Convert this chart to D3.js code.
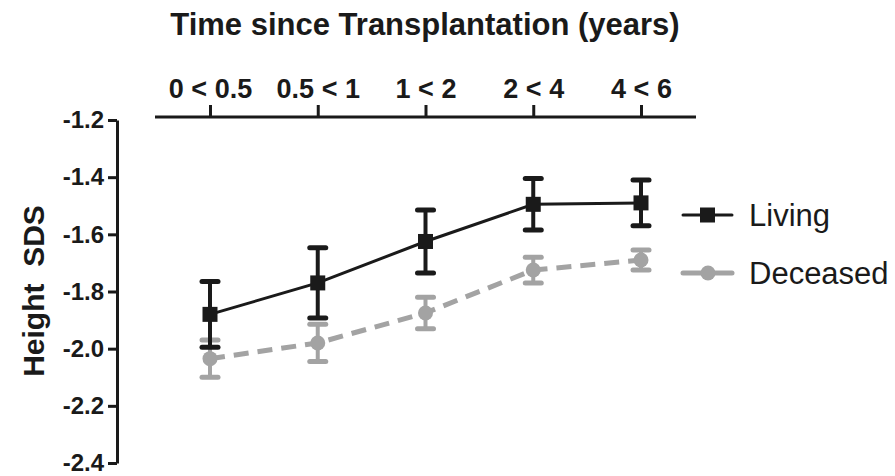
<!DOCTYPE html>
<html>
<head>
<meta charset="utf-8">
<script src="https://cdn.jsdelivr.net/npm/d3@7"></script>
<style>
  html, body { margin: 0; padding: 0; background: #fff; }
  svg { display: block; font-family: "Liberation Sans", Arial, sans-serif; }
</style>
</head>
<body>
<svg id="chart" width="895" height="476"></svg>
<script>
// Follow-up intervals after transplantation
const intervals = ["0 < 0.5", "0.5 < 1", "1 < 2", "2 < 4", "4 < 6"];

// Height SDS means and error half-widths per donor type
const livingMean = [-1.88, -1.77, -1.625, -1.495, -1.49];
const livingErr  = [0.115, 0.123, 0.11, 0.09, 0.08];
const deceasedMean = [-2.035, -1.98, -1.875, -1.725, -1.69];
const deceasedErr  = [0.065, 0.065, 0.055, 0.045, 0.035];

const yTicks = [-1.2, -1.4, -1.6, -1.8, -2.0, -2.2, -2.4];

const svg = d3.select("#chart");

const x = d3.scalePoint().domain(intervals).range([210, 641]);
const y = d3.scaleLinear().domain([-2.4, -1.2]).range([463, 120]);

// Top category axis
const xAxis = svg.append("g")
  .attr("transform", "translate(0,117)")
  .call(d3.axisTop(x).tickSize(12).tickPadding(7).tickSizeOuter(0));
xAxis.select(".domain").attr("d", "M155,0H696");
xAxis.selectAll("path, line").attr("stroke", "#1a1a1a").attr("stroke-width", 3);
xAxis.selectAll("text")
  .attr("fill", "#1a1a1a")
  .attr("font-size", 27)
  .attr("font-weight", "bold");

// Left value axis
const yAxis = svg.append("g")
  .attr("transform", "translate(117,0)")
  .call(d3.axisLeft(y).tickValues(yTicks).tickFormat(d3.format(".1f")).tickSize(9).tickPadding(4).tickSizeOuter(0));
yAxis.selectAll("path, line").attr("stroke", "#1a1a1a").attr("stroke-width", 3);
yAxis.selectAll("text")
  .attr("fill", "#1a1a1a")
  .attr("font-size", 24)
  .attr("font-weight", "bold")
  .text(d => d3.format(".1f")(d).replace("−", "-"));

// Axis titles
svg.append("text")
  .attr("x", 425).attr("y", 35)
  .attr("text-anchor", "middle")
  .attr("font-size", 31)
  .attr("font-weight", "bold")
  .attr("fill", "#1a1a1a")
  .text("Time since Transplantation (years)");

svg.append("text")
  .attr("transform", "translate(44,291) rotate(-90)")
  .attr("text-anchor", "middle")
  .attr("font-size", 30)
  .attr("font-weight", "bold")
  .attr("fill", "#1a1a1a")
  .attr("xml:space", "preserve")
  .text("Height  SDS");

const line = d3.line().x((d, i) => x(intervals[i])).y(d => y(d));

function drawSeries(means, errs, color, opts) {
  const g = svg.append("g");
  g.append("path")
    .datum(means)
    .attr("d", line)
    .attr("fill", "none")
    .attr("stroke", color)
    .attr("stroke-width", opts.lineWidth)
    .attr("stroke-dasharray", opts.dash || null);
  const pts = g.selectAll("g.pt").data(means).join("g").attr("class", "pt");
  pts.append("line")
    .attr("x1", (d, i) => x(intervals[i])).attr("x2", (d, i) => x(intervals[i]))
    .attr("y1", (d, i) => y(d + errs[i])).attr("y2", (d, i) => y(d - errs[i]))
    .attr("stroke", color).attr("stroke-width", 4);
  [1, -1].forEach(s => {
    pts.append("line")
      .attr("x1", (d, i) => x(intervals[i]) - 8).attr("x2", (d, i) => x(intervals[i]) + 8)
      .attr("y1", (d, i) => y(d + s * errs[i])).attr("y2", (d, i) => y(d + s * errs[i]))
      .attr("stroke", color).attr("stroke-width", 5).attr("stroke-linecap", "round");
  });
  if (opts.marker === "square") {
    pts.append("rect")
      .attr("x", (d, i) => x(intervals[i]) - 7.5).attr("y", d => y(d) - 7.5)
      .attr("width", 15).attr("height", 15).attr("fill", color);
  } else {
    pts.append("circle")
      .attr("cx", (d, i) => x(intervals[i])).attr("cy", d => y(d))
      .attr("r", 7.5).attr("fill", color);
  }
}

drawSeries(deceasedMean, deceasedErr, "#a3a3a3", { lineWidth: 5, dash: "15,9", marker: "circle" });
drawSeries(livingMean, livingErr, "#1a1a1a", { lineWidth: 3, marker: "square" });

// Legend
const legendItems = [
  { name: "Living", color: "#1a1a1a", width: 3, marker: "square", y: 215 },
  { name: "Deceased", color: "#a3a3a3", width: 5, marker: "circle", y: 273 }
];
const lg = svg.append("g").selectAll("g").data(legendItems).join("g")
  .attr("transform", d => `translate(0,${d.y})`);
lg.append("line").attr("x1", 683).attr("x2", 732).attr("y1", 0).attr("y2", 0)
  .attr("stroke", d => d.color).attr("stroke-width", d => d.width).attr("stroke-linecap", "round");
lg.filter(d => d.marker === "square").append("rect")
  .attr("x", 700).attr("y", -7.5).attr("width", 15).attr("height", 15).attr("fill", d => d.color);
lg.filter(d => d.marker === "circle").append("circle")
  .attr("cx", 708).attr("cy", 0).attr("r", 7.5).attr("fill", d => d.color);
lg.append("text").attr("x", 749).attr("y", 0).attr("dy", "0.36em")
  .attr("font-size", 31).attr("fill", "#1a1a1a")
  .text(d => d.name);
</script>
</body>
</html>
